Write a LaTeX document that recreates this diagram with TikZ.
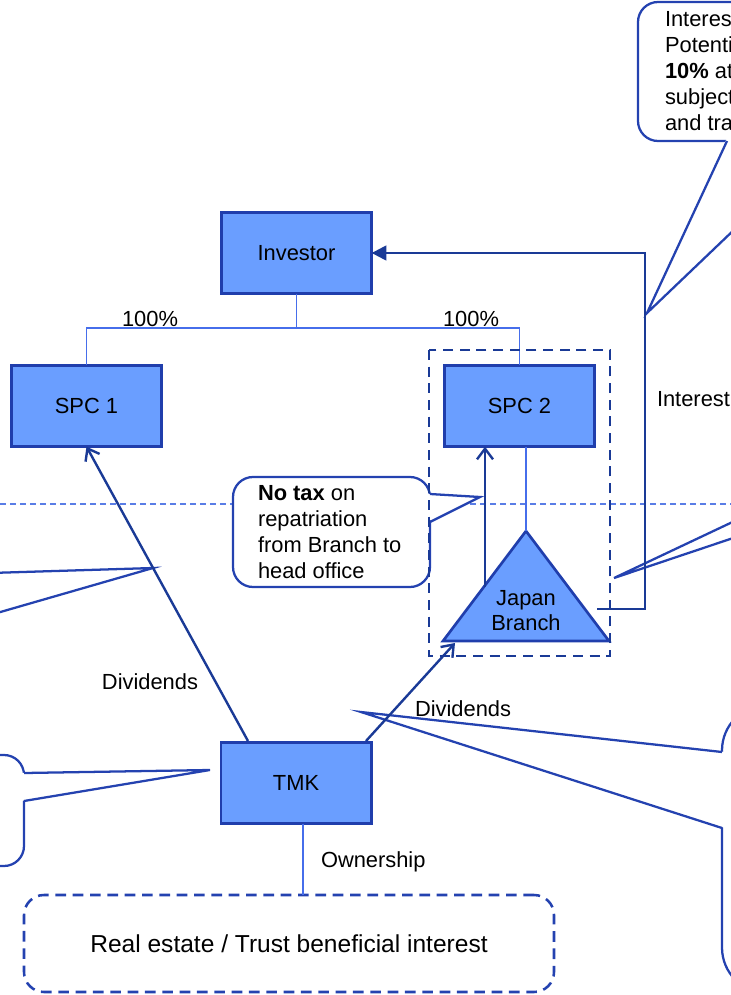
\documentclass[tikz,border=0pt]{standalone}
\usepackage{fontspec}
\setmainfont{Liberation Sans}
\usetikzlibrary{arrows.meta}
\definecolor{boxfill}{RGB}{106,158,255}
\definecolor{boxline}{RGB}{32,62,172}
\definecolor{flowline}{RGB}{26,58,150}
\definecolor{treeline}{RGB}{70,110,235}
\definecolor{divline}{RGB}{90,125,230}
\definecolor{callline}{RGB}{36,66,176}
\begin{document}
\begin{tikzpicture}[x=0.75pt,y=-0.75pt,
  every node/.style={font=\fontsize{16.4}{19.5}\selectfont, inner sep=0pt, outer sep=0pt},
  entity/.style={draw=boxline, fill=boxfill, line width=2pt, minimum width=112.75pt, minimum height=61pt},
  branchshape/.style={draw=boxline, fill=boxfill, line width=2pt, line join=miter},
  treelink/.style={draw=treeline, line width=0.8pt},
  divider/.style={draw=divline, line width=0.8pt, dash pattern=on 4.5pt off 3pt},
  groupbox/.style={draw=flowline, line width=1.9pt, dash pattern=on 7.5pt off 5pt},
  estatebox/.style={draw=callline, line width=1.9pt, dash pattern=on 8pt off 5pt, rounded corners=15pt,
    minimum width=397.5pt, minimum height=72.75pt, font=\fontsize{18.4}{22}\selectfont},
  openflow/.style={draw=flowline, line width=1.8pt, -{Straight Barb[length=8pt,width=12pt,line width=1.8pt]}},
  payflow/.style={draw=flowline, line width=1.8pt, -{Triangle[length=11pt,width=11pt]}},
  callbody/.style={draw=callline, fill=white, line width=1.7pt, rounded corners=15pt},
  calledge/.style={draw=callline, line width=1.7pt, line join=miter},
  calltext/.style={align=left, anchor=west}
]
\useasboundingbox (0,0) rectangle (731,995);
\clip (0,0) rectangle (731,995);

% dividing line across the structure
\draw[divider] (0,504) -- (731,504);

% ---- callouts ----
% top right
\draw[callbody] (638,2) rectangle (950,141);
\fill[white] (727,138) -- (647,313) -- (827,138) -- cycle;
\draw[calledge] (727,141) -- (647,313) -- (827,141);
\node[calltext] (note1) at (665,71) {Interest\\Potential\\\textbf{10\%} at\\subject\\and trans};

% left, body off the page
\fill[white] (-10,573) -- (153,568) -- (-10,615) -- cycle;
\draw[calledge] (-10,573) -- (153,568) -- (-10,615);

% lower left
\draw[callbody] (-200,755) rectangle (24,866);
\fill[white] (21,773) -- (210,770) -- (21,801) -- cycle;
\draw[calledge] (24,773) -- (210,770) -- (24,801);

% repatriation note
\draw[callbody] (233,477) rectangle (430,587);
\fill[white] (427,494) -- (480,497) -- (427,522) -- cycle;
\draw[calledge] (430,494) -- (480,497) -- (430,522);
\node[calltext] (note2) at (258,532.5) {\textbf{No tax} on\\repatriation\\from Branch to\\head office};

% right middle, body off the page
\fill[white] (760,509) -- (614,578) -- (760,529) -- cycle;
\draw[calledge] (760,509) -- (614,578) -- (760,529);

% bottom right
\draw[callbody, rounded corners=34pt] (722,705) rectangle (1100,993);
\fill[white] (725,752) -- (361,712) -- (725,828) -- cycle;
\draw[calledge] (722,752) -- (361,712) -- (722,828);

% ---- entities ----
\node[entity] (inv) at (296.5,253) {Investor};
\node[entity] (spc1) at (86.5,406) {SPC 1};
\node[entity] (spc2) at (519.5,406) {SPC 2};
\node[entity] (tmk) at (296,783) {TMK};

\coordinate (apex) at (526,531);
\coordinate (bl) at (443,641);
\coordinate (br) at (609,641);
\draw[branchshape] (bl) -- (apex) -- (br) -- cycle;
\node[align=center, font=\fontsize{16.4}{18.75}\selectfont] (branch) at (526,610.5) {Japan\\Branch};

\node[estatebox] (estate) at (289,943.5) {Real estate / Trust beneficial interest};

% ---- ownership links ----
\coordinate (bus) at (296.5,328);
\draw[treelink] (inv.south) -- (bus) -| (spc1.north);
\draw[treelink] (bus) -| (spc2.north);
\draw[treelink] (spc2.south -| apex) -- (apex);
\coordinate (own) at (303,0);
\draw[treelink] (tmk.south -| own) -- (estate.north -| own);

% group around SPC 2 and its branch
\draw[groupbox] (429,350) rectangle (610,656);

% ---- flows ----
\coordinate (rep) at (485,587);
\draw[openflow] (rep) -- (rep |- spc2.south);
\coordinate (d1) at (248,741);
\draw[openflow] (d1) -- (spc1.south);
\coordinate (d2) at (366,741);
\coordinate (branchin) at (455,643);
\draw[openflow] (d2) -- (branchin);
\coordinate (intout) at (597,609);
\coordinate (riser) at (645,609);
\draw[payflow] (intout) -- (riser) |- (inv.east);

% ---- labels ----
\node (p1) at (150,319) {100\%};
\node (p2) at (471,319) {100\%};
\node[anchor=west] (intlbl) at (657,399) {Interest};
\node (div1) at (150,682) {Dividends};
\node[anchor=west] (div2) at (415,709) {Dividends};
\node[anchor=west] (ownlbl) at (321,862) {Ownership};
\end{tikzpicture}
\end{document}
